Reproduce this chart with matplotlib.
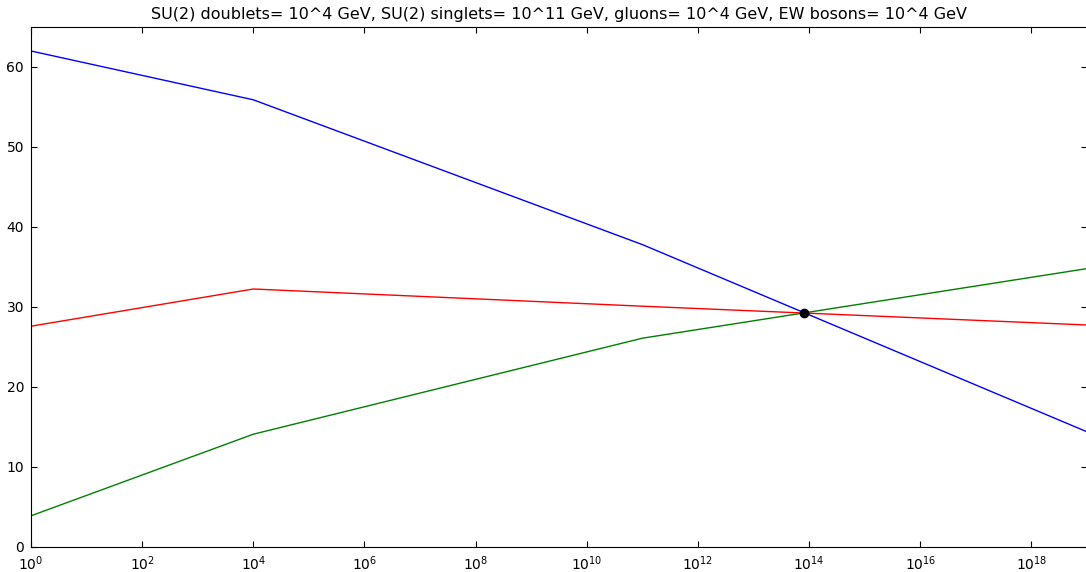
import matplotlib
matplotlib.use("Agg")
import matplotlib.pyplot as plt
import numpy as np

# energy scale (GeV) where the slopes change
scale = [1e0, 1e4, 1e11, 1e19]
# inverse couplings
alpha1_inv = [62.0, 55.9, 37.8, 14.4]
alpha2_inv = [27.6, 32.25, 30.1, 27.75]
alpha3_inv = [3.9, 14.1, 26.1, 34.8]
# unification point
unif_x = 10 ** 13.9
unif_y = 29.3

title = ("SU(2) doublets= 10^4 GeV, SU(2) singlets= 10^11 GeV, "
         "gluons= 10^4 GeV, EW bosons= 10^4 GeV")

fig = plt.figure(figsize=(10.86, 5.72), dpi=100)
ax = fig.add_axes([31 / 1086, 25 / 572, 1056 / 1086, 520 / 572])

ax.plot(scale, alpha1_inv, color="#0000ff", lw=1)
ax.plot(scale, alpha3_inv, color="#008000", lw=1)
ax.plot(scale, alpha2_inv, color="#ff0000", lw=1)
ax.plot(unif_x, unif_y, "o", color="k", ms=6)

ax.set_xscale("log")
ax.set_xlim(1, 1e19)
ax.set_ylim(0, 65)
ax.set_xticks([10.0 ** k for k in range(0, 19, 2)])
ax.xaxis.set_minor_locator(matplotlib.ticker.NullLocator())
ax.set_yticks(range(0, 61, 10))
ax.tick_params(direction="in", top=True, right=True, length=4, labelsize=10, pad=5)
ax.set_title(title, fontsize=11.5)

fig.savefig("out.png", dpi=100)
